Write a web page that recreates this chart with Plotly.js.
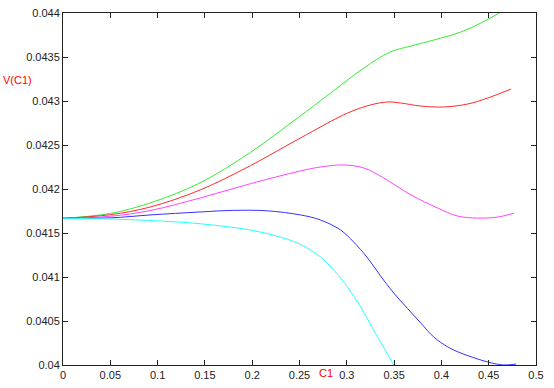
<!DOCTYPE html>
<html><head><meta charset="utf-8">
<script src="https://cdn.plot.ly/plotly-3.0.1.min.js"></script>
<style>html,body{margin:0;padding:0;background:#fff}#chart{width:554px;height:388px}</style>
</head><body><div id="chart"></div>
<script>
// Data
const greenX = [0, 0.05, 0.092, 0.145, 0.198, 0.248, 0.283, 0.318, 0.346, 0.368, 0.392, 0.4206, 0.4417, 0.4629, 0.477];
const greenY = [0.041667, 0.041722, 0.041841, 0.042070, 0.042415, 0.042807, 0.043091, 0.043375, 0.043557, 0.043625, 0.043693, 0.043784, 0.043886, 0.044011, 0.044100];

const redX = [0, 0.05, 0.092, 0.145, 0.198, 0.251, 0.301, 0.325, 0.343, 0.357, 0.378, 0.4025, 0.428, 0.449, 0.4735];
const redY = [0.041667, 0.041708, 0.041795, 0.041989, 0.042265, 0.042580, 0.042864, 0.042955, 0.042989, 0.042977, 0.042943, 0.042932, 0.042966, 0.043034, 0.043136];

const magentaX = [0, 0.05, 0.092, 0.145, 0.198, 0.251, 0.272, 0.297, 0.318, 0.339, 0.368, 0.396, 0.417, 0.438, 0.460, 0.477];
const magentaY = [0.041667, 0.041690, 0.041755, 0.041898, 0.042060, 0.042205, 0.042250, 0.042273, 0.042239, 0.042125, 0.041932, 0.041784, 0.041693, 0.041670, 0.041682, 0.041727];

const blueX = [0, 0.05, 0.092, 0.145, 0.18, 0.216, 0.2511, 0.2722, 0.2934, 0.3072, 0.322, 0.3358, 0.3496, 0.3644, 0.3782, 0.3919, 0.4068, 0.4206, 0.449, 0.466, 0.479];
const blueY = [0.041667, 0.041672, 0.041705, 0.041739, 0.041757, 0.041752, 0.041705, 0.041648, 0.041534, 0.041398, 0.041216, 0.041010, 0.040818, 0.040640, 0.040477, 0.040318, 0.040205, 0.040136, 0.040034, 0.040000, 0.040011];

const cyanX = [0, 0.05, 0.103, 0.145, 0.198, 0.233, 0.2511, 0.2722, 0.286, 0.3008, 0.3146, 0.3284, 0.3432, 0.3496, 0.353];
const cyanY = [0.041667, 0.041659, 0.041636, 0.041605, 0.041534, 0.041443, 0.041370, 0.041227, 0.041080, 0.040886, 0.040659, 0.040398, 0.040120, 0.040000, 0.039930];

const xTicks = [0, 0.05, 0.1, 0.15, 0.2, 0.25, 0.3, 0.35, 0.4, 0.45, 0.5];
const xTickText = ["0", "0.05", "0.1", "0.15", "0.2", "0.25", "0.3", "0.35", "0.4", "0.45", "0.5"];
const yTicks = [0.04, 0.0405, 0.041, 0.0415, 0.042, 0.0425, 0.043, 0.0435, 0.044];
const yTickText = ["0.04", "0.0405", "0.041", "0.0415", "0.042", "0.0425", "0.043", "0.0435", "0.044"];

function tr(x, y, color) {
  return {x: x, y: y, type: 'scatter', mode: 'lines',
    line: {color: color, width: 1, shape: 'spline', smoothing: 1}, hoverinfo: 'skip'};
}

const data = [
  tr(greenX, greenY, '#33ee33'),
  tr(redX, redY, '#ff2a2a'),
  tr(magentaX, magentaY, '#ff44ff'),
  tr(blueX, blueY, '#3333ff'),
  tr(cyanX, cyanY, '#22ffff')
];

const axisCommon = {
  showgrid: false, zeroline: false, showline: true, linecolor: '#222', linewidth: 1,
  mirror: 'allticks', ticks: 'inside', ticklen: 5, tickcolor: '#222', tickwidth: 1,
  tickfont: {family: 'Liberation Sans, Arial, sans-serif', size: 11, color: '#222'},
  tickmode: 'array'
};

const layout = {
  width: 554, height: 388,
  margin: {l: 63, r: 18, t: 13, b: 23},
  paper_bgcolor: '#fff', plot_bgcolor: '#fff',
  showlegend: false,
  xaxis: Object.assign({}, axisCommon, {range: [0, 0.5], tickvals: xTicks, ticktext: xTickText}),
  yaxis: Object.assign({}, axisCommon, {range: [0.04, 0.044], tickvals: yTicks, ticktext: yTickText}),
  annotations: [
    {text: 'C1', xref: 'paper', yref: 'paper', x: 0.555, y: 0, yshift: -8, xanchor: 'center', yanchor: 'middle',
     showarrow: false, font: {family: 'Liberation Sans, Arial, sans-serif', size: 11, color: '#ff0000'}},
    {text: 'V(C1)', xref: 'paper', yref: 'paper', x: 0, xshift: -46, y: 0.81, xanchor: 'center', yanchor: 'middle',
     showarrow: false, font: {family: 'Liberation Sans, Arial, sans-serif', size: 11, color: '#ff0000'}}
  ]
};

Plotly.newPlot('chart', data, layout, {staticPlot: true, displayModeBar: false});
</script></body></html>
